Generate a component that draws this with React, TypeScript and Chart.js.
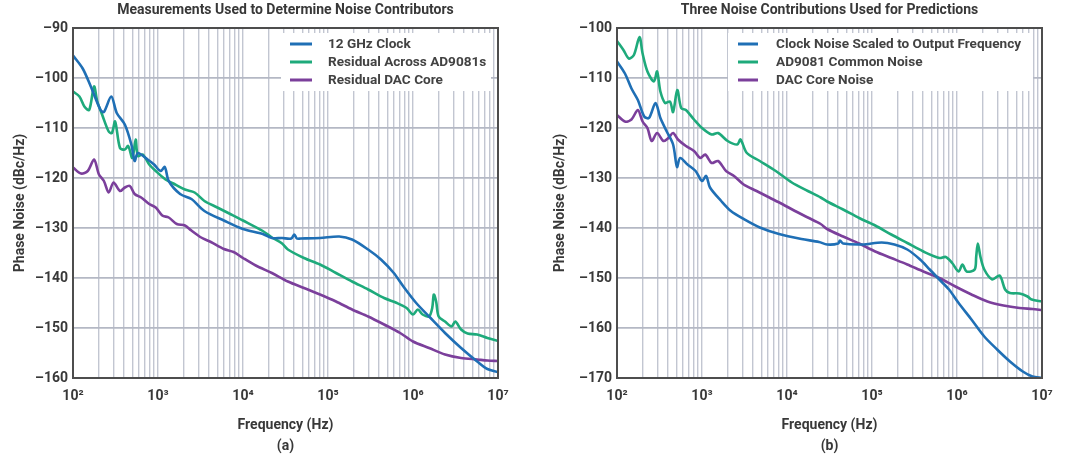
import React, { useEffect, useRef } from 'react';
import { Chart, registerables } from 'chart.js';

Chart.register(...registerables);

const FONT = 'Roboto';
const INK = '#383838';
const BLUE = '#1f6fb5';
const GREEN = '#1eaa7b';
const PURPLE = '#7b3f9b';

// x axis (log) ticks
const xDecades = [100, 1000, 10000, 100000, 1000000, 10000000];
const xDecadeLabels = ['10²', '10³', '10⁴', '10⁵', '10⁶', '10⁷'];
const xGridMultipliers = [1, 2, 3, 4, 5, 6, 7, 8, 9];

// ---------- Chart (a) ----------
const titleA = 'Measurements Used to Determine Noise Contributors';
const subA = '(a)';
const yRangeA = [-160, -90];
const labelsA = ['12 GHz Clock', 'Residual Across AD9081s', 'Residual DAC Core'];

const clockA_f = [100, 130, 162, 211, 231, 282, 327, 407, 486, 531, 579, 755, 899, 1074, 1202, 1337, 1820, 2472, 3516, 5957, 10000, 17100, 21880, 28840, 37000, 40180, 43000, 47750, 80540, 135500, 191900, 296500, 419800, 594300, 770900, 1091000, 1545000, 2382000, 3681000, 5689000, 7499000, 10000000];
const clockA_v = [-95.5, -98.1, -101.7, -106.4, -106.8, -103.7, -107, -109.3, -113.3, -116.6, -115, -116.3, -117.3, -118.6, -117.8, -120.6, -123.2, -124.2, -126.6, -128.5, -130.2, -131.2, -132.0, -132.0, -132.1, -131.3, -132.1, -132.1, -132.0, -131.7, -132.3, -134.3, -136.3, -139, -141.7, -145, -147.7, -151, -154, -156.7, -158.2, -158.8];

const residA_f = [100, 119, 136, 155, 177, 193, 221, 263, 287, 313, 357, 407, 446, 499, 546, 579, 661, 789, 940, 1225, 1592, 2075, 2698, 3516, 4989, 7079, 10000, 17100, 21880, 28840, 33730, 52120, 80540, 124200, 191900, 296500, 457100, 647100, 841400, 1000000, 1140000, 1297000, 1545000, 1683000, 1758000, 1871000, 2004000, 2382000, 2838000, 3148000, 3681000, 4385000, 5689000, 7499000, 10000000];
const residA_v = [-102.7, -103.7, -105.7, -106.4, -101.7, -104.7, -107.4, -110.7, -111, -108.7, -114, -114.3, -113.6, -116, -112.3, -115.6, -115.3, -117.3, -118.6, -120.3, -121.3, -122.3, -122.9, -124.6, -125.9, -127.2, -128.5, -130.6, -131.9, -133.1, -134.3, -136, -137.3, -139, -140.7, -142.3, -144, -145, -146, -147.3, -146.3, -147.3, -147.7, -146, -143.3, -144.7, -147.7, -148.7, -149.7, -148.7, -150.3, -151.1, -151.3, -152, -152.6];

const dacA_f = [100, 124, 149, 177, 202, 231, 263, 300, 357, 407, 466, 531, 634, 789, 940, 1122, 1337, 1663, 2075, 2472, 3221, 4188, 5957, 7762, 10000, 14130, 21880, 33730, 52120, 80540, 124200, 191900, 296500, 457100, 706300, 1000000, 1545000, 2382000, 3681000, 5689000, 7499000, 10000000];
const dacA_v = [-117.9, -119.1, -118.6, -116.3, -119.3, -120.6, -122.9, -120.9, -122.6, -121.9, -121.6, -123.2, -123.9, -125.2, -125.9, -127.5, -127.9, -129.2, -129.5, -130.5, -131.9, -132.8, -134.2, -134.8, -136, -137.5, -139, -140.7, -142, -143.3, -144.7, -146.3, -147.7, -149.3, -151, -152.7, -154, -155.3, -156, -156.3, -156.5, -156.6];

// ---------- Chart (b) ----------
const titleB = 'Three Noise Contributions Used for Predictions';
const subB = '(b)';
const yRangeB = [-170, -100];
const labelsB = ['Clock Noise Scaled to Output Frequency', 'AD9081 Common Noise', 'DAC Core Noise'];

const clockB_f = [100, 124, 148, 176, 209, 238, 284, 324, 385, 457, 508, 553, 676, 841, 1000, 1119, 1242, 1683, 2188, 3090, 4786, 8054, 14790, 23820, 29650, 40000, 41980, 45710, 77090, 129700, 183700, 260000, 368100, 477500, 619400, 805400, 1045000, 1479000, 2094000, 2965000, 4198000, 5943000, 7709000, 10000000];
const clockB_v = [-106.7, -109.1, -112.1, -114.4, -117.7, -118, -115, -118, -120.7, -123.3, -127.8, -126, -127.3, -128.6, -130.6, -129.6, -131.9, -134.6, -136.6, -138.2, -139.9, -141.2, -142.2, -142.8, -143.3, -143.1, -142.5, -143.1, -143.3, -142.9, -143.3, -144.3, -146.3, -148.3, -150.3, -152.3, -155, -158.3, -161.7, -164.3, -166.7, -168.7, -169.7, -170];

const commonB_f = [100, 119, 138, 158, 184, 200, 228, 272, 296, 324, 368, 420, 457, 512, 569, 647, 805, 1000, 1297, 1545, 2004, 2600, 2838, 3373, 4786, 7379, 11400, 17580, 24890, 29650, 45710, 70630, 109100, 168300, 260000, 401800, 619400, 737900, 877000, 1045000, 1159000, 1297000, 1614000, 1683000, 1758000, 1884000, 2094000, 2600000, 3177000, 3681000, 4198000, 5445000, 6761000, 7568000, 10000000];
const commonB_v = [-102.6, -104.4, -106.1, -105.4, -101.8, -105.1, -108.7, -110.7, -108.7, -112.7, -115, -114.7, -116.8, -112.4, -116, -116.4, -118.3, -120, -121.3, -121, -122.6, -123.3, -122.3, -125, -126.6, -128.6, -130.9, -132.6, -133.9, -134.7, -136.3, -138, -139.5, -141.3, -143, -144.7, -146, -145.8, -147, -148.7, -147.3, -148.7, -148.3, -145.7, -143.1, -145.7, -148.3, -150.3, -149.5, -152.3, -153, -153.1, -153.7, -154.3, -154.7];

const dacB_f = [100, 124, 148, 176, 200, 228, 256, 296, 352, 402, 457, 521, 647, 805, 957, 1091, 1297, 1545, 1919, 2382, 3090, 4385, 6194, 8770, 12420, 17580, 24890, 29650, 45710, 70630, 109100, 168300, 260000, 401800, 619400, 957200, 1479000, 2280000, 3524000, 5445000, 7709000, 10000000];
const dacB_v = [-117.4, -118.7, -118.3, -116.4, -118.7, -120, -122.6, -121, -122.6, -122, -121, -122.3, -123.6, -124.6, -126, -125.3, -127, -126.6, -128.6, -129.6, -131.3, -132.6, -133.9, -135.2, -136.6, -137.9, -139.2, -140.2, -141.7, -143.1, -144.7, -146, -147.3, -148.7, -150, -151.7, -153.3, -154.7, -155.5, -156, -156.2, -156.4];

type Series = { label: string; color: string; f: number[]; v: number[] };
type Cfg = {
  title: string;
  sub: string;
  yRange: number[];
  series: Series[];
  yAxisWidth: number;
  padRight: number;
  legend: { fromRight: number; width: number; sampleStart: number; sampleLen: number; textStart: number };
};

const cfgA: Cfg = {
  title: titleA,
  sub: subA,
  yRange: yRangeA,
  series: [
    { label: labelsA[0], color: BLUE, f: clockA_f, v: clockA_v },
    { label: labelsA[1], color: GREEN, f: residA_f, v: residA_v },
    { label: labelsA[2], color: PURPLE, f: dacA_f, v: dacA_v },
  ],
  yAxisWidth: 73,
  padRight: 42,
  legend: { fromRight: 217, width: 210, sampleStart: 9, sampleLen: 22, textStart: 47 },
};

const cfgB: Cfg = {
  title: titleB,
  sub: subB,
  yRange: yRangeB,
  series: [
    { label: labelsB[0], color: BLUE, f: clockB_f, v: clockB_v },
    { label: labelsB[1], color: GREEN, f: commonB_f, v: commonB_v },
    { label: labelsB[2], color: PURPLE, f: dacB_f, v: dacB_v },
  ],
  yAxisWidth: 77,
  padRight: 38,
  legend: { fromRight: 314, width: 305, sampleStart: 10, sampleLen: 20, textStart: 48 },
};

function makeChart(canvas: HTMLCanvasElement, cfg: Cfg) {
  const lg = cfg.legend;
  const boxPlugin = {
    id: 'legendBox',
    beforeDatasetsDraw(chart: any) {
      const { ctx, chartArea } = chart;
      ctx.save();
      ctx.fillStyle = '#ffffff';
      ctx.fillRect(chartArea.right - lg.fromRight, chartArea.top + 5, lg.width, 58);
      ctx.restore();
    },
    afterDraw(chart: any) {
      const { ctx, chartArea } = chart;
      ctx.save();
      ctx.strokeStyle = '#4d4d4d';
      ctx.lineWidth = 2;
      ctx.strokeRect(chartArea.left, chartArea.top, chartArea.right - chartArea.left, chartArea.bottom - chartArea.top);
      const bx = chartArea.right - lg.fromRight;
      chart.data.datasets.forEach((ds: any, i: number) => {
        const y = chartArea.top + 16 + i * 18;
        ctx.strokeStyle = ds.borderColor;
        ctx.lineWidth = 3;
        ctx.beginPath();
        ctx.moveTo(bx + lg.sampleStart, y);
        ctx.lineTo(bx + lg.sampleStart + lg.sampleLen, y);
        ctx.stroke();
        ctx.fillStyle = '#424242';
        ctx.font = `bold 13.6px ${FONT}`;
        ctx.textBaseline = 'middle';
        ctx.textAlign = 'left';
        ctx.fillText(ds.label, bx + lg.textStart, y + 0.5);
      });
      ctx.restore();
    },
  };

  return new Chart(canvas, {
    type: 'line',
    data: {
      datasets: cfg.series.map((s) => ({
        label: s.label,
        data: s.f.map((f, i) => ({ x: f, y: s.v[i] })),
        borderColor: s.color,
        backgroundColor: s.color,
        borderWidth: 2.6,
        pointRadius: 0,
        tension: 0.3,
        fill: false,
      })),
    },
    options: {
      responsive: false,
      animation: false,
      layout: { padding: { left: 0, right: cfg.padRight, top: 0, bottom: 0 } },
      plugins: {
        legend: { display: false },
        tooltip: { enabled: false },
        title: {
          display: true,
          text: cfg.title,
          fullSize: false,
          color: INK,
          font: { family: FONT, size: 14, weight: 'bold', lineHeight: 1.2 },
          padding: { top: 2.5, bottom: 8.7 },
        },
      },
      scales: {
        x: {
          type: 'logarithmic',
          min: xDecades[0],
          max: xDecades[xDecades.length - 1],
          afterBuildTicks: (scale: any) => {
            const ticks: { value: number }[] = [];
            xDecades.forEach((d, di) => {
              if (di === xDecades.length - 1) {
                ticks.push({ value: d });
              } else {
                xGridMultipliers.forEach((m) => ticks.push({ value: d * m }));
              }
            });
            scale.ticks = ticks;
          },
          afterFit: (scale: any) => {
            scale.height = 88;
          },
          ticks: {
            autoSkip: false,
            maxRotation: 0,
            padding: 10,
            color: INK,
            font: { family: FONT, size: 14, weight: 'bold' },
            callback: (value: any) => {
              const idx = xDecades.indexOf(Number(value));
              return idx >= 0 ? xDecadeLabels[idx] : '';
            },
          },
          grid: { color: '#c2c6d1', lineWidth: 1.4, drawTicks: false },
          border: { display: true, color: '#4d4d4d', width: 2 },
          title: {
            display: true,
            text: ['Frequency (Hz)', cfg.sub],
            color: INK,
            font: { family: FONT, size: 14, weight: 'bold', lineHeight: 1.5 },
            padding: { top: 0, bottom: 9.5 },
          },
        },
        y: {
          type: 'linear',
          min: cfg.yRange[0],
          max: cfg.yRange[1],
          afterFit: (scale: any) => {
            scale.width = cfg.yAxisWidth;
          },
          ticks: {
            stepSize: 10,
            padding: 5,
            color: INK,
            font: { family: FONT, size: 14, weight: 'bold' },
            callback: (value: any) => '–' + Math.abs(Number(value)),
          },
          grid: { color: '#b4b8c4', lineWidth: 1.8, drawTicks: false },
          border: { display: true, color: '#4d4d4d', width: 2 },
          title: {
            display: true,
            text: 'Phase Noise (dBc/Hz)',
            color: INK,
            font: { family: FONT, size: 14, weight: 'bold', lineHeight: 1.2 },
            padding: { top: 11.6, bottom: 0 },
          },
        },
      },
    },
    plugins: [boxPlugin],
  } as any);
}

function Panel({ cfg, left }: { cfg: Cfg; left: number }) {
  const ref = useRef<HTMLCanvasElement | null>(null);
  useEffect(() => {
    if (!ref.current) return;
    const chart = makeChart(ref.current, cfg);
    return () => chart.destroy();
  }, [cfg]);
  return (
    <div style={{ position: 'absolute', left, top: 0, width: 540, height: 466 }}>
      <canvas ref={ref} width={540} height={466} style={{ width: 540, height: 466, display: 'block' }} />
    </div>
  );
}

export default function App() {
  return (
    <div style={{ position: 'absolute', left: 0, top: 0, width: 1080, height: 466, background: '#ffffff', overflow: 'hidden' }}>
      <Panel cfg={cfgA} left={0} />
      <Panel cfg={cfgB} left={540} />
    </div>
  );
}
